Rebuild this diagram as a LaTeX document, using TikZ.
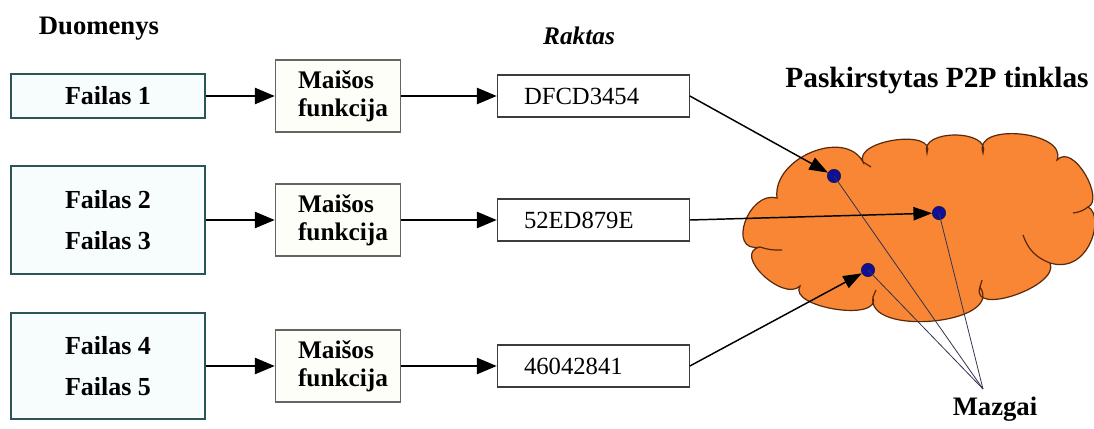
\documentclass[tikz,border=0pt]{standalone}
\usepackage{fontspec}
\setmainfont{Liberation Serif}
\usetikzlibrary{positioning, arrows.meta}

\definecolor{filecol}{RGB}{43,85,87}
\definecolor{filefill}{RGB}{247,253,253}
\definecolor{hashcol}{RGB}{100,100,100}
\definecolor{hashfill}{RGB}{254,254,248}
\definecolor{keycol}{RGB}{60,60,60}
\definecolor{cloudfill}{RGB}{248,134,52}
\definecolor{cloudline}{RGB}{90,40,10}
\definecolor{dotfill}{RGB}{16,16,150}
\definecolor{dotline}{RGB}{20,20,60}
\definecolor{ptrcol}{RGB}{50,50,80}

\begin{document}
\begin{tikzpicture}[x=0.75pt, y=-0.75pt,
filebox/.style = {rectangle, draw=filecol, line width=1.2pt, fill=filefill, minimum width=145.5pt, align=center, font=\bfseries\fontsize{19.5}{31}\selectfont},
hashbox/.style = {rectangle, draw=hashcol, line width=0.8pt, fill=hashfill, minimum height=54pt, text width=60pt, inner xsep=17pt, align=left, font=\bfseries\fontsize{19}{21}\selectfont},
keybox/.style = {rectangle, draw=keycol, line width=0.8pt, fill=white, minimum height=31.5pt, text width=104pt, inner xsep=20pt, align=left, font=\fontsize{18.5}{22}\selectfont},
heading/.style = {font=\bfseries\fontsize{20}{24}\selectfont},
arr/.style = {-{Triangle[length=15pt,width=12pt]}, line width=2pt},
hit/.style = {-{Triangle[length=14pt,width=10pt]}, line width=1.1pt},
peer/.style = {circle, draw=dotline, fill=dotfill, inner sep=0pt, minimum size=10pt},
pointer/.style = {draw=ptrcol, line width=0.6pt}]

\useasboundingbox (0,0) rectangle (1094,428);

% the P2P network
\filldraw[fill=cloudfill, draw=cloudline, line width=0.9pt] (760,247)
  .. controls (726.1,253.65) and (748.25,189.95) .. (777,198)
  .. controls (772,158) and (845,128) .. (863,162)
  .. controls (853.4,140.05) and (936.6,128.35) .. (927,153)
  .. controls (918.6,129) and (991.4,129) .. (983,153)
  .. controls (971.9,121.95) and (1068.1,131.05) .. (1057,160)
  .. controls (1073.7,142.25) and (1105,200) .. (1088,207)
  .. controls (1105,215) and (1090,275) .. (1050,263)
  .. controls (1060.5,286.1) and (969.5,317.3) .. (980,287)
  .. controls (1004.7,324.2) and (865.7,337.2) .. (873,297)
  .. controls (882,322.8) and (787,307.2) .. (800,286)
  .. controls (783.3,302.7) and (731.3,253.3) .. (760,247) -- cycle;
\begin{scope}[draw=cloudline, line width=0.9pt]
  \draw (863,162) -- (871,167);
  \draw (760,247) to[bend right=10] (782,250);
  \draw (1088,207) to[bend left=15] (1073,213);
  \draw (1050,263) to[bend left=25] (1023,235);
  \draw (980,287) -- (982,280);
  \draw (873,297) -- (876,290);
\end{scope}

\node[heading] (data) at (99,29) {Duomenys};
\node[heading, font=\bfseries\itshape\fontsize{19}{22}\selectfont] (keys) at (579,36) {Raktas};
\node[heading, font=\bfseries\fontsize{22}{26}\selectfont] (net) at (937,80) {Paskirstytas P2P tinklas};

\begin{scope}[on grid]

  \node[filebox, minimum height=33pt] (fail1) at (108,96) {Failas 1};
  \node[filebox, minimum height=81pt] (fail23) [below=93pt of fail1] {Failas 2\\Failas 3};
  \node[filebox, minimum height=79.5pt] (fail45) [below=109.5pt of fail23] {Failas 4\\Failas 5};

  \node[hashbox] (hash1) [right=172.5pt of fail1] {Maišos\\funkcija};
  \node[hashbox] (hash2) [right=172.5pt of fail23] {Maišos\\funkcija};
  \node[hashbox] (hash3) [right=172.5pt of fail45] {Maišos\\funkcija};

  \node[keybox] (key1) [right=191.5pt of hash1] {DFCD3454};
  \node[keybox] (key2) [right=191.5pt of hash2] {52ED879E};
  \node[keybox] (key3) [right=191.5pt of hash3] {46042841};

\end{scope}

\draw[arr] (fail1) -- (hash1);
\draw[arr] (fail23) -- (hash2);
\draw[arr] (fail45) -- (hash3);

\draw[arr] (hash1) -- (key1);
\draw[arr] (hash2) -- (key2);
\draw[arr] (hash3) -- (key3);

% peers inside the network
\node[peer] (n1) at (834,176) {};
\node[peer] (n2) at (939,213) {};
\node[peer] (n3) at (868,270) {};

\draw[hit] (key1.east) -- (n1);
\draw[hit] (key2.east) -- (n2);
\draw[hit] (key3.east) -- (n3);

\coordinate (mz) at (983,389);
\node[heading] (mazgai) at (995,409) {Mazgai};
\draw[pointer] (n1.center) -- (mz);
\draw[pointer] (n2.center) -- (mz);
\draw[pointer] (n3.center) -- (mz);

\end{tikzpicture}
\end{document}
